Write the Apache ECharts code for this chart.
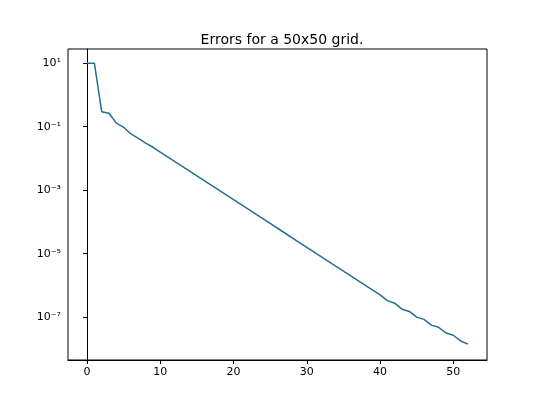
<!DOCTYPE html>
<html>
<head>
<meta charset="utf-8">
<script src="https://cdn.jsdelivr.net/npm/echarts@6/dist/echarts.min.js"></script>
<style>html,body{margin:0;padding:0;background:#fff}#chart{width:540px;height:405px}</style>
</head>
<body>
<div id="chart"></div>
<script>
var iterations = [];
for (var i = 0; i <= 52; i++) iterations.push(i);
var errors = [10, 10, 2.95e-1, 2.63e-1, 1.29e-1, 9.55e-2, 5.89e-2, 4.27e-2, 3.02e-2, 2.24e-2,
  1.58e-2, 1.12e-2, 7.94e-3, 5.62e-3, 3.98e-3, 2.82e-3, 2.00e-3, 1.41e-3, 1.00e-3, 7.08e-4,
  5.01e-4, 3.55e-4, 2.51e-4, 1.78e-4, 1.26e-4, 8.91e-5, 6.31e-5, 4.47e-5, 3.16e-5, 2.24e-5,
  1.58e-5, 1.12e-5, 7.94e-6, 5.62e-6, 3.98e-6, 2.82e-6, 2.00e-6, 1.41e-6, 1.00e-6, 7.08e-7,
  5.01e-7, 3.31e-7, 2.75e-7, 1.78e-7, 1.51e-7, 1.00e-7, 8.51e-8, 5.62e-8, 4.79e-8, 3.16e-8,
  2.69e-8, 1.78e-8, 1.41e-8];
var xTicks = [0, 10, 20, 30, 40, 50];
var yTicks = [1e-7, 1e-5, 1e-3, 1e-1, 10];

var sup = {'-': '\u207B', '0': '\u2070', '1': '\u00B9', '2': '\u00B2', '3': '\u00B3', '4': '\u2074',
  '5': '\u2075', '6': '\u2076', '7': '\u2077', '8': '\u2078', '9': '\u2079'};
function powLabel(v) {
  var e = String(Math.round(Math.log10(v)));
  return '10' + e.split('').map(function (c) { return sup[c]; }).join('');
}

var myChart = echarts.init(document.getElementById('chart'));
var font = 'DejaVu Sans';
myChart.setOption({
  animation: false,
  textStyle: { fontFamily: font },
  title: {
    text: 'Errors for a 50x50 grid.', left: 277, top: 28, textAlign: 'center',
    textStyle: { fontFamily: font, fontSize: 14, fontWeight: 'normal', color: '#000' }
  },
  grid: { left: 68, top: 49, right: 53, bottom: 45, show: true, borderColor: '#000', borderWidth: 1 },
  xAxis: {
    type: 'value', min: -2.6, max: 54.6,
    axisLine: { show: true, lineStyle: { color: '#000' } },
    splitLine: { show: false },
    axisTick: { show: true, customValues: xTicks, length: 4, inside: false, lineStyle: { color: '#000' } },
    axisLabel: { customValues: xTicks, color: '#000', fontSize: 11, margin: 7 }
  },
  yAxis: {
    type: 'log', min: 4.47e-9, max: 27.9,
    axisLine: { show: true, lineStyle: { color: '#000' } },
    splitLine: { show: false },
    axisTick: { show: true, customValues: yTicks, length: 4, inside: false, lineStyle: { color: '#000' } },
    axisLabel: { customValues: yTicks, color: '#000', fontSize: 11, margin: 7, formatter: powLabel }
  },
  series: [{
    type: 'line', showSymbol: false,
    data: iterations.map(function (x, i) { return [x, errors[i]]; }),
    lineStyle: { color: '#22718f', width: 1.5 }
  }]
});
</script>
</body>
</html>
